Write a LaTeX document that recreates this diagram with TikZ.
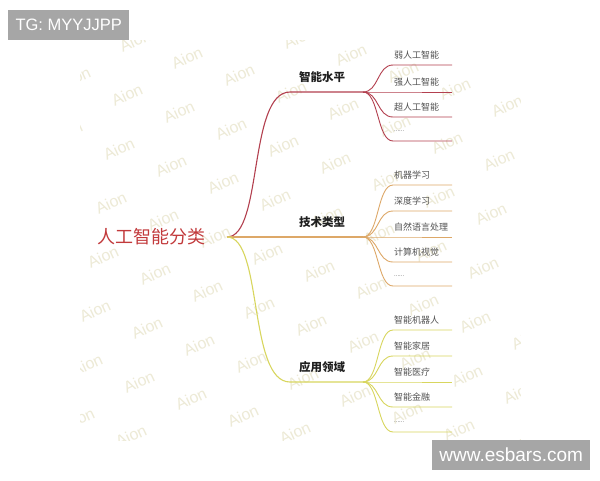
\documentclass[tikz,border=0pt]{standalone}
\usepackage{fontspec}
\setmainfont{Liberation Sans}
\newfontfamily\cjk{Noto Sans CJK SC}
\usetikzlibrary{positioning, calc}

\definecolor{lvred}{HTML}{B3404F}
\definecolor{lvtan}{HTML}{DDA868}
\definecolor{lvyel}{HTML}{D8D65E}
\definecolor{rootred}{HTML}{C23A3C}
\definecolor{wmark}{HTML}{EDEAD6}
\definecolor{tagbg}{HTML}{A6A6A6}

\newcommand{\moreleaf}{{\fontsize{6}{6}\selectfont ......}}

\tikzset{
  leaf/.style={anchor=west, inner sep=0pt, text=black!68, font=\cjk\fontsize{9}{9}\selectfont},
  topic/.style={inner sep=0pt, text=black!88, font=\cjk\bfseries\fontsize{11.5}{12}\selectfont},
  wm/.style={text=wmark, rotate=25, font=\fontsize{16}{16}\selectfont},
  tag/.style={fill=tagbg, text=white, inner sep=0pt, anchor=north west, font=\fontsize{16.5}{18}\selectfont}
}

\begin{document}
\begin{tikzpicture}[x=1pt, y=-1pt]
                \useasboundingbox[fill=white] (0,0) rectangle (600,480);

                % watermark
                \begin{scope}
                \clip (80,40) rectangle (520,440);
                \foreach \i in {-2,...,9}
                    \foreach \j in {-5,...,4}
                        \node[wm] at ($(103,257)+\i*(52,17)+\j*(-8,54)$) {Aion};
                \end{scope}

                \node[font=\cjk\fontsize{18}{18}\selectfont, text=rootred] (root) at (151,237) {人工智能分类};
                \coordinate (r0) at (227,237);

                \coordinate (a1) at (290,92);  \coordinate (h1) at (363,92);
                \coordinate (a3) at (290,382); \coordinate (h3) at (363,382);
                \coordinate (h2) at (363,237);

                \draw[lvred, line width=1.1pt] (r0) .. controls +(36,0) and +(-42,0) .. (a1) -- (h1);
                \draw[lvtan, line width=1.1pt] (r0) -- (h2);
                \draw[lvyel, line width=1.1pt] (r0) .. controls +(36,0) and +(-42,0) .. (a3) -- (h3);

                \node[topic] (t1) at (322,77)  {智能水平};
                \node[topic] (t2) at (322,222) {技术类型};
                \node[topic] (t3) at (322,367) {应用领域};

                \foreach \ly/\lt [count=\i] in {65/弱人工智能, 92/强人工智能, 117/超人工智能, 141/\moreleaf} {
                    \coordinate (s1\i) at (393,\ly);
                    \coordinate (e1\i) at (452,\ly);
                    \draw[lvred, line width=0.9pt] (h1) .. controls +(16,0) and +(-16,0) .. (s1\i) -- (e1\i);
                    \node[leaf] (l1\i) at (394,\ly-10) {\lt};
                }

                \foreach \ly/\lt [count=\i] in {185/机器学习, 211/深度学习, 237/自然语言处理, 262/计算机视觉, 286/\moreleaf} {
                    \coordinate (s2\i) at (393,\ly);
                    \coordinate (e2\i) at (452,\ly);
                    \draw[lvtan, line width=0.9pt] (h2) .. controls +(16,0) and +(-16,0) .. (s2\i) -- (e2\i);
                    \node[leaf] (l2\i) at (394,\ly-10) {\lt};
                }

                \foreach \ly/\lt [count=\i] in {330/智能机器人, 356/智能家居, 382/智能医疗, 407/智能金融, 432/\moreleaf} {
                    \coordinate (s3\i) at (393,\ly);
                    \coordinate (e3\i) at (452,\ly);
                    \draw[lvyel, line width=0.9pt] (h3) .. controls +(16,0) and +(-16,0) .. (s3\i) -- (e3\i);
                    \node[leaf] (l3\i) at (394,\ly-10) {\lt};
                }

                \node[tag, minimum width=121pt, minimum height=30pt] (tg) at (8,10) {TG: MYYJJPP};
                \node[tag, minimum width=158pt, minimum height=30pt, font=\fontsize{19}{20}\selectfont] (web) at (432,440) {www.esbars.com};
            \end{tikzpicture}
\end{document}
